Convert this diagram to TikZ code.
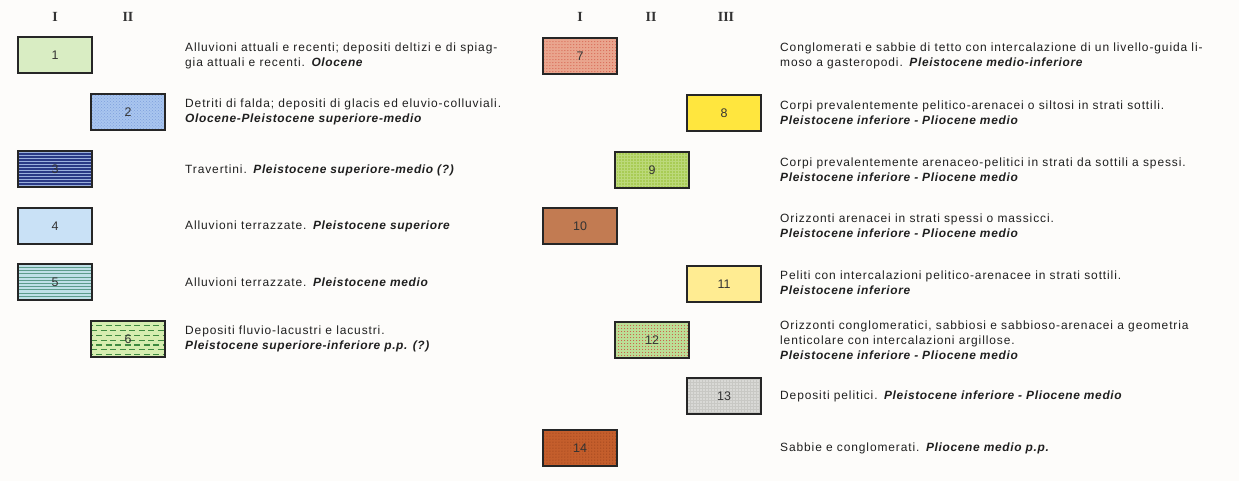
\documentclass[tikz,border=0pt]{standalone}
\usepackage{fontspec}
\setmainfont{Liberation Sans}[LetterSpace=7.5, BoldItalicFeatures={LetterSpace=5.5}]
\newfontfamily\numfont{Liberation Sans}
\newfontfamily\hdrfont{Liberation Serif}
\usetikzlibrary{patterns}
\definecolor{bg}{HTML}{FDFCFA}
\definecolor{c1}{HTML}{D9EDC3}
\definecolor{c2}{HTML}{A9C6EF}
\definecolor{c2d}{HTML}{7E9EDC}
\definecolor{c3}{HTML}{9AB0DC}
\definecolor{c3d}{HTML}{2A3A85}
\definecolor{c4}{HTML}{C9E1F6}
\definecolor{c5}{HTML}{BFE0E8}
\definecolor{c5d}{HTML}{5C9C8C}
\definecolor{c6}{HTML}{D6EDB0}
\definecolor{c6d}{HTML}{3E8A40}
\definecolor{c7}{HTML}{E9A58E}
\definecolor{c7d}{HTML}{D2503E}
\definecolor{c8}{HTML}{FFE63E}
\definecolor{c9}{HTML}{A9CC55}
\definecolor{c9d}{HTML}{BCD97A}
\definecolor{c10}{HTML}{C27B52}
\definecolor{c11}{HTML}{FFEC92}
\definecolor{c12}{HTML}{BCDE96}
\definecolor{c12d}{HTML}{D0483C}
\definecolor{c13}{HTML}{D9D9D6}
\definecolor{c13d}{HTML}{C8C8C4}
\definecolor{c14}{HTML}{C45E2C}
\definecolor{c14d}{HTML}{8E3A18}
\newcommand{\ep}[1]{\textbf{\textit{#1}}}
\tikzset{
  legbox/.style={draw=black!85, line width=1.1bp, minimum width=74bp, minimum height=36bp,
    inner sep=0, font=\numfont\fontsize{12.5}{12}\selectfont, text=black!80},
  lfill/.style={preaction={fill=#1}},
  lpat/.style 2 args={preaction={pattern=#1, pattern color=#2}},
  desc/.style={anchor=west, align=left, inner sep=0, font=\fontsize{12}{15}\selectfont, text=black!88},
  hdr/.style={font=\hdrfont\bfseries\fontsize{14}{14}\selectfont, text=black!80},
  hlines/.style n args={3}{path picture={
    \foreach \k in {1,...,40}{
      \draw[#1, line width=#2]
        ([yshift=-\k*#3]path picture bounding box.north west) --
        ([yshift=-\k*#3]path picture bounding box.north east);}}},
  dlines/.style={path picture={
    \foreach \k in {1,...,7}{
      \draw[c6d, line width=1.1bp, dash pattern=on 6bp off 3.5bp,
        dash phase={mod(\k,2)*4.5bp}]
        ([yshift=-\k*4.8bp]path picture bounding box.north west) --
        ([yshift=-\k*4.8bp]path picture bounding box.north east);}}},
}
\begin{document}
\begin{tikzpicture}[x=1bp,y=-1bp]
\useasboundingbox[fill=bg] (0,0) rectangle (1239,481);
% headers
\node[hdr] (hIa) at (55,17) {I};
\node[hdr] (hIIa) at (128,17) {II};
\node[hdr] (hIb) at (580,17) {I};
\node[hdr] (hIIb) at (651,17) {II};
\node[hdr] (hIIIb) at (726,17) {III};
% left boxes
\node[legbox, lfill=c1] (b1) at (55,55) {1};
\node[legbox, lfill=c2, lpat={crosshatch dots}{c2d}] (b2) at (128,112) {2};
\node[legbox, fill=c3, hlines={c3d}{1.6bp}{3bp}] (b3) at (55,169) {3};
\node[legbox, lfill=c4] (b4) at (55,226) {4};
\node[legbox, fill=c5, hlines={c5d}{0.5bp}{3.2bp}] (b5) at (55,282) {5};
\node[legbox, fill=c6, dlines] (b6) at (128,339) {6};
% left texts
\node[desc] (t1) at (185,56) {Alluvioni attuali e recenti; depositi deltizi e di spiag-\\gia attuali e recenti. \ep{Olocene}};
\node[desc] (t2) at (185,112) {Detriti di falda; depositi di glacis ed eluvio-colluviali.\\\ep{Olocene-Pleistocene superiore-medio}};
\node[desc] (t3) at (185,170) {Travertini. \ep{Pleistocene superiore-medio (?)}};
\node[desc] (t4) at (185,226) {Alluvioni terrazzate. \ep{Pleistocene superiore}};
\node[desc] (t5) at (185,282) {Alluvioni terrazzate. \ep{Pleistocene medio}};
\node[desc] (t6) at (185,339) {Depositi fluvio-lacustri e lacustri.\\\ep{Pleistocene superiore-inferiore p.p. (?)}};
% right boxes
\node[legbox, lfill=c7, lpat={dots}{c7d}] (b7) at (580,56) {7};
\node[legbox, lfill=c8] (b8) at (724,113) {8};
\node[legbox, lfill=c9, lpat={grid}{c9d}] (b9) at (652,170) {9};
\node[legbox, lfill=c10] (b10) at (580,226) {10};
\node[legbox, lfill=c11] (b11) at (724,284) {11};
\node[legbox, lfill=c12, lpat={dots}{c12d}] (b12) at (652,340) {12};
\node[legbox, lfill=c13, lpat={grid}{c13d}] (b13) at (724,396) {13};
\node[legbox, lfill=c14, lpat={dots}{c14d}] (b14) at (580,448) {14};
% right texts
\node[desc] (t7) at (780,56) {Conglomerati e sabbie di tetto con intercalazione di un livello-guida li-\\moso a gasteropodi. \ep{Pleistocene medio-inferiore}};
\node[desc] (t8) at (780,113) {Corpi prevalentemente pelitico-arenacei o siltosi in strati sottili.\\\ep{Pleistocene inferiore - Pliocene medio}};
\node[desc] (t9) at (780,170) {Corpi prevalentemente arenaceo-pelitici in strati da sottili a spessi.\\\ep{Pleistocene inferiore - Pliocene medio}};
\node[desc] (t10) at (780,226) {Orizzonti arenacei in strati spessi o massicci.\\\ep{Pleistocene inferiore - Pliocene medio}};
\node[desc] (t11) at (780,283) {Peliti con intercalazioni pelitico-arenacee in strati sottili.\\\ep{Pleistocene inferiore}};
\node[desc] (t12) at (780,340) {Orizzonti conglomeratici, sabbiosi e sabbioso-arenacei a geometria\\lenticolare con intercalazioni argillose.\\\ep{Pleistocene inferiore - Pliocene medio}};
\node[desc] (t13) at (780,396) {Depositi pelitici. \ep{Pleistocene inferiore - Pliocene medio}};
\node[desc] (t14) at (780,448) {Sabbie e conglomerati. \ep{Pliocene medio p.p.}};
\end{tikzpicture}
\end{document}
